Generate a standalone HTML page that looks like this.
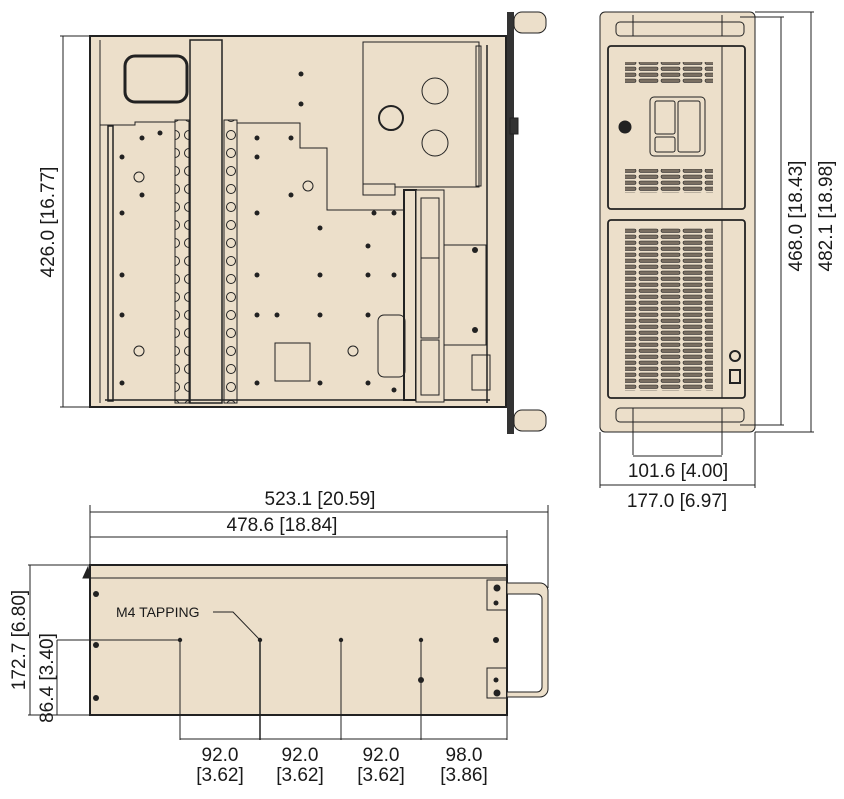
<!DOCTYPE html>
<html><head><meta charset="utf-8"><style>
html,body{margin:0;padding:0;background:#fff;}
svg{display:block;font-family:"Liberation Sans",sans-serif;}
</style></head><body>
<svg width="844" height="799" viewBox="0 0 844 799" xmlns="http://www.w3.org/2000/svg">
<defs>
<pattern id="vent" x="0" y="0" width="22" height="6" patternUnits="userSpaceOnUse">
<rect x="1" y="1" width="19" height="3.4" rx="1.7" fill="#7a6f62" stroke="#222" stroke-width="0.6"/>
</pattern>
<pattern id="fin" x="0" y="0" width="14" height="18" patternUnits="userSpaceOnUse">
<circle cx="7" cy="9" r="4.5" fill="none" stroke="#222" stroke-width="1"/>
</pattern>
</defs>
<g stroke="#222" fill="none" stroke-width="1">
<!-- ===== TOP VIEW ===== -->
<line x1="60" y1="36" x2="92" y2="36"/><line x1="60" y1="407" x2="92" y2="407"/>
<line x1="63" y1="36" x2="63" y2="407"/>
<rect x="90" y="36" width="416" height="371" fill="#ecdfca" stroke-width="2"/>
<rect x="507" y="12" width="7" height="422" fill="#333" stroke="none"/>
<rect x="514" y="12" width="32" height="21" rx="8" fill="#ecdfca"/>
<rect x="514" y="410" width="32" height="21" rx="8" fill="#ecdfca"/>
<rect x="510" y="118" width="8" height="16" fill="#333"/>
<line x1="100" y1="40" x2="100" y2="403"/>
<rect x="190" y="40" width="32" height="363" fill="#ecdfca" stroke-width="1.5"/>
<rect x="125" y="56" width="62" height="46" rx="10" stroke-width="3"/>
<polyline points="100,125 135,125 135,122 175,122"/>
<rect x="108" y="126" width="5" height="275" fill="#ecdfca" stroke-width="1.5"/>
<rect x="175" y="120" width="14" height="283" fill="url(#fin)"/>
<rect x="224" y="120" width="13" height="283" fill="url(#fin)"/>
<polyline points="237,123 300,123 300,148 327,148 327,210 405,210 405,400 237,400"/>
<line x1="105" y1="400" x2="490" y2="400" stroke-width="1.5"/>
<rect x="363" y="42" width="116" height="145" fill="#ecdfca"/>
<rect x="363" y="184" width="32" height="11" fill="#ecdfca"/>
<circle cx="435" cy="91" r="13"/><circle cx="391" cy="118" r="12" stroke-width="2"/><circle cx="435" cy="143" r="13"/>
<rect x="476" y="46" width="5" height="140"/>
<line x1="487" y1="45" x2="487" y2="403" stroke-width="1.5"/>
<rect x="404" y="190" width="12" height="210" fill="#ecdfca" stroke-width="2"/>
<rect x="416" y="190" width="28" height="212" fill="#ecdfca"/>
<rect x="421" y="198" width="18" height="60"/><rect x="421" y="258" width="18" height="80"/><rect x="421" y="340" width="18" height="55"/>
<rect x="444" y="245" width="42" height="100"/>
<rect x="472" y="355" width="18" height="35"/>
<rect x="378" y="315" width="27" height="62" rx="6"/>
<rect x="275" y="343" width="35" height="38"/>
<g fill="#222" stroke="none">
<circle cx="301" cy="74" r="2.5"/><circle cx="301" cy="104" r="2.5"/>
<circle cx="142" cy="138" r="2.5"/><circle cx="160" cy="133" r="2.5"/><circle cx="122" cy="157" r="2.5"/><circle cx="142" cy="195" r="2.5"/><circle cx="122" cy="213" r="2.5"/><circle cx="122" cy="275" r="2.5"/><circle cx="122" cy="315" r="2.5"/><circle cx="122" cy="383" r="2.5"/>
<circle cx="257" cy="138" r="2.5"/><circle cx="291" cy="138" r="2.5"/><circle cx="257" cy="157" r="2.5"/><circle cx="291" cy="195" r="2.5"/><circle cx="257" cy="213" r="2.5"/><circle cx="320" cy="228" r="2.5"/><circle cx="374" cy="213" r="2.5"/><circle cx="394" cy="213" r="2.5"/><circle cx="368" cy="246" r="2.5"/>
<circle cx="257" cy="275" r="2.5"/><circle cx="320" cy="275" r="2.5"/><circle cx="368" cy="275" r="2.5"/><circle cx="394" cy="275" r="2.5"/>
<circle cx="257" cy="315" r="2.5"/><circle cx="277" cy="315" r="2.5"/><circle cx="320" cy="315" r="2.5"/><circle cx="368" cy="315" r="2.5"/>
<circle cx="257" cy="383" r="2.5"/><circle cx="320" cy="383" r="2.5"/><circle cx="368" cy="383" r="2.5"/><circle cx="394" cy="390" r="2.5"/>
<circle cx="475" cy="250" r="3"/><circle cx="475" cy="330" r="3"/>
</g>
<circle cx="139" cy="177" r="5"/><circle cx="139" cy="351" r="5"/><circle cx="308" cy="186" r="5"/><circle cx="353" cy="351" r="5"/>
<!-- ===== FRONT VIEW ===== -->
<rect x="600" y="12" width="155" height="420" rx="5" fill="#ecdfca"/>
<rect x="616" y="22" width="128" height="14" rx="4"/><rect x="616" y="408" width="128" height="14" rx="4"/>
<line x1="633" y1="15" x2="633" y2="36"/><line x1="722" y1="15" x2="722" y2="36"/>
<line x1="633" y1="408" x2="633" y2="455"/><line x1="722" y1="408" x2="722" y2="455"/>
<rect x="608" y="46" width="137" height="163" rx="3" stroke-width="1.8"/>
<line x1="722" y1="46" x2="722" y2="209"/>
<rect x="608" y="220" width="137" height="178" rx="3" stroke-width="1.8"/>
<line x1="722" y1="220" x2="722" y2="398"/>
<rect x="625" y="62" width="88" height="22" fill="url(#vent)" stroke="none"/>
<rect x="625" y="169" width="88" height="24" fill="url(#vent)" stroke="none"/>
<rect x="625" y="228" width="88" height="163" fill="url(#vent)" stroke="none"/>
<rect x="650" y="97" width="55" height="59" rx="4"/>
<rect x="655" y="101" width="20" height="33" rx="2"/><rect x="678" y="101" width="22" height="51" rx="2"/><rect x="655" y="137" width="20" height="15" rx="2"/>
<circle cx="625" cy="127" r="6" fill="#222"/>
<circle cx="735" cy="356" r="5" stroke-width="2"/><rect x="730" y="370" width="10" height="13" stroke-width="2"/>
<line x1="740" y1="17" x2="784" y2="17"/><line x1="740" y1="425" x2="784" y2="425"/><line x1="781" y1="17" x2="781" y2="425"/>
<line x1="755" y1="12" x2="814" y2="12"/><line x1="755" y1="432" x2="814" y2="432"/><line x1="811" y1="12" x2="811" y2="432"/>
<line x1="633" y1="456" x2="722" y2="456"/>
<line x1="600" y1="432" x2="600" y2="488"/><line x1="755" y1="432" x2="755" y2="488"/><line x1="600" y1="485" x2="755" y2="485"/>
<!-- ===== SIDE VIEW ===== -->
<line x1="90" y1="505" x2="90" y2="565"/><line x1="548" y1="505" x2="548" y2="588"/><line x1="507" y1="530" x2="507" y2="565"/>
<line x1="90" y1="512" x2="548" y2="512"/><line x1="90" y1="537" x2="507" y2="537"/>
<rect x="90" y="565" width="417" height="150" fill="#ecdfca" stroke-width="2"/>
<line x1="90" y1="578" x2="507" y2="578"/>
<path d="M83,578 L88,567 L90,578Z" fill="#222"/>
<path d="M507,583 h33 a8,8 0 0 1 8,8 v98 a8,8 0 0 1 -8,8 h-33 v-5 h30 a5,5 0 0 0 5,-5 v-88 a5,5 0 0 0 -5,-5 h-30 z" fill="#ecdfca"/>
<path d="M507,580 h-20 v30 h20 M507,668 h-20 v30 h20"/>
<line x1="28" y1="565" x2="90" y2="565"/><line x1="28" y1="715" x2="90" y2="715"/><line x1="30" y1="565" x2="30" y2="715"/>
<line x1="57" y1="640" x2="180" y2="640"/><line x1="57" y1="640" x2="57" y2="715"/>
<line x1="180" y1="640" x2="180" y2="740"/><line x1="260" y1="640" x2="260" y2="740" stroke-width="1.5"/><line x1="341" y1="640" x2="341" y2="740"/><line x1="421" y1="640" x2="421" y2="740"/><line x1="507" y1="715" x2="507" y2="740"/>
<line x1="180" y1="739" x2="507" y2="739"/>
<polyline points="213,612 233,612 260,640"/>
<g fill="#222" stroke="none">
<circle cx="96" cy="594" r="3"/><circle cx="96" cy="645" r="3"/><circle cx="96" cy="698" r="3"/>
<circle cx="180" cy="640" r="2.2"/><circle cx="260" cy="640" r="2.2"/><circle cx="341" cy="640" r="2.2"/><circle cx="421" cy="640" r="2.2"/><circle cx="421" cy="680" r="3"/>
<circle cx="497" cy="588" r="3.5"/><circle cx="496" cy="603" r="2.5"/><circle cx="496" cy="640" r="3"/><circle cx="496" cy="680" r="2.5"/><circle cx="497" cy="693" r="3.5"/>
</g>
</g>
<g fill="#1a1a1a" font-size="19">
<text transform="translate(54,222) rotate(-90)" text-anchor="middle">426.0 [16.77]</text>
<text transform="translate(802,216) rotate(-90)" text-anchor="middle">468.0 [18.43]</text>
<text transform="translate(832,216) rotate(-90)" text-anchor="middle">482.1 [18.98]</text>
<text x="678" y="477" text-anchor="middle">101.6 [4.00]</text>
<text x="677" y="507" text-anchor="middle">177.0 [6.97]</text>
<text x="320" y="505" text-anchor="middle">523.1 [20.59]</text>
<text x="282" y="531" text-anchor="middle">478.6 [18.84]</text>
<text transform="translate(25,640) rotate(-90)" text-anchor="middle">172.7 [6.80]</text>
<text transform="translate(53,678) rotate(-90)" text-anchor="middle">86.4 [3.40]</text>
<text x="220" y="761" text-anchor="middle">92.0</text><text x="220" y="781" text-anchor="middle">[3.62]</text>
<text x="300" y="761" text-anchor="middle">92.0</text><text x="300" y="781" text-anchor="middle">[3.62]</text>
<text x="381" y="761" text-anchor="middle">92.0</text><text x="381" y="781" text-anchor="middle">[3.62]</text>
<text x="464" y="761" text-anchor="middle">98.0</text><text x="464" y="781" text-anchor="middle">[3.86]</text>
<text x="116" y="617" font-size="14">M4 TAPPING</text>
</g>
</svg>
</body></html>
